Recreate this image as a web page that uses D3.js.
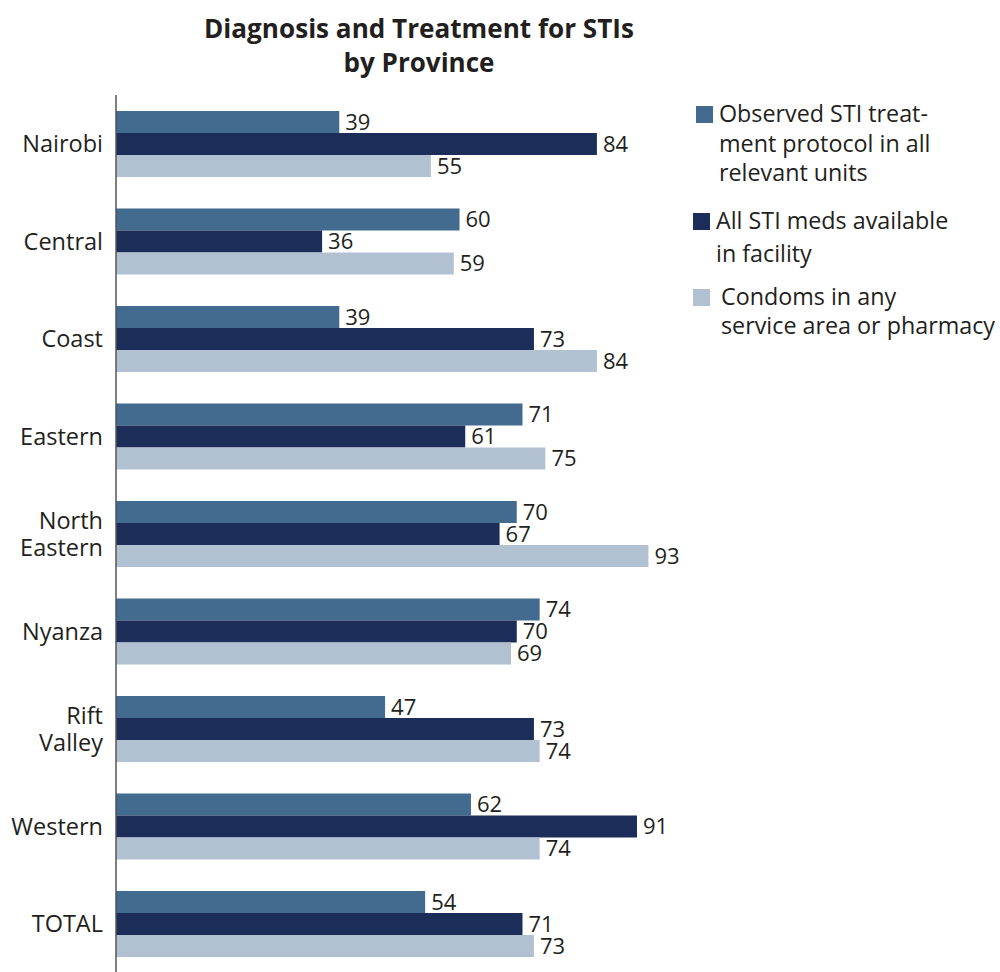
<!DOCTYPE html>
<html>
<head>
<meta charset="utf-8">
<script src="https://cdn.jsdelivr.net/npm/d3@7"></script>
<style>
  html, body { margin: 0; padding: 0; background: #fff; }
  svg { display: block; font-family: "Open Sans", sans-serif; }
</style>
</head>
<body>
<svg id="chart" width="1000" height="972"></svg>
<script>
// Provinces (category axis), top to bottom
const provinces = ["Nairobi", "Central", "Coast", "Eastern", "North Eastern", "Nyanza", "Rift Valley", "Western", "TOTAL"];
// Label lines for the category axis
const provinceLines = {
  "North Eastern": ["North", "Eastern"],
  "Rift Valley": ["Rift", "Valley"]
};
// Series (percent of facilities)
const seriesNames = ["observed", "meds", "condoms"];
const observedProtocol = [39, 60, 39, 71, 70, 74, 47, 62, 54];
const medsAvailable    = [84, 36, 73, 61, 67, 70, 73, 91, 71];
const condomsAvailable = [55, 59, 84, 75, 93, 69, 74, 74, 73];
const legendLabels = [
  ["Observed STI treat-", "ment protocol in all", "relevant units"],
  ["All STI meds available", "in facility"],
  ["Condoms in any", "service area or pharmacy"]
];
const colors = ["#436a8f", "#1c2d5a", "#b1c1d2"];
const textColor = "#231f20";

const svg = d3.select("#chart");

const x = d3.scaleLinear().domain([0, 100]).range([116, 688.5]);
const y = d3.scaleBand().domain(provinces).range([111, 957]).paddingInner(0.323).paddingOuter(0);
const ySeries = d3.scaleBand().domain(seriesNames).range([0, y.bandwidth()]).padding(0);
const color = d3.scaleOrdinal().domain(seriesNames).range(colors);

const seriesValues = [observedProtocol, medsAvailable, condomsAvailable];
const rows = provinces.flatMap((p, i) =>
  seriesNames.map((s, j) => ({ province: p, series: s, value: seriesValues[j][i] })));

// Title
svg.append("text")
  .attr("x", 419).attr("y", 0)
  .attr("text-anchor", "middle")
  .attr("font-weight", "bold")
  .attr("font-size", 27)
  .attr("fill", textColor)
  .selectAll("tspan")
  .data(["Diagnosis and Treatment for STIs", "by Province"])
  .join("tspan")
  .attr("x", 419)
  .attr("y", (d, i) => 38 + i * 34)
  .attr("textLength", (d, i) => i === 0 ? 430 : 151)
  .attr("lengthAdjust", "spacingAndGlyphs")
  .text(d => d);

// Bars
svg.append("g")
  .selectAll("rect")
  .data(rows)
  .join("rect")
  .attr("x", x(0))
  .attr("y", d => y(d.province) + ySeries(d.series))
  .attr("width", d => x(d.value) - x(0))
  .attr("height", ySeries.bandwidth())
  .attr("fill", d => color(d.series));

// Value labels
svg.append("g")
  .selectAll("text")
  .data(rows)
  .join("text")
  .attr("x", d => x(d.value) + 6)
  .attr("y", d => y(d.province) + ySeries(d.series) + ySeries.bandwidth() / 2)
  .attr("dy", "0.36em")
  .attr("font-size", 22)
  .attr("fill", textColor)
  .text(d => d.value);

// Category axis
const axis = svg.append("g")
  .attr("transform", `translate(${x(0)},0)`)
  .call(d3.axisLeft(y).tickSize(0).tickPadding(13));
axis.select(".domain").remove();
axis.selectAll(".tick text")
  .attr("font-family", "'Open Sans', sans-serif")
  .attr("font-size", 23.5)
  .attr("fill", textColor)
  .each(function(d) {
    const lines = provinceLines[d] || [d];
    const t = d3.select(this).text(null).attr("dy", null);
    lines.forEach((line, i) => {
      t.append("tspan")
        .attr("x", -13)
        .attr("dy", i === 0 ? `${0.36 - (lines.length - 1) * 0.58}em` : "1.16em")
        .text(line);
    });
  });

// Vertical axis line
svg.append("line")
  .attr("x1", x(0)).attr("x2", x(0))
  .attr("y1", 95).attr("y2", 972)
  .attr("stroke", "#555").attr("stroke-width", 1.5);

// Legend
const legendPos = [
  { sx: 696, sy: 106, tx: 719, ty: [122, 152, 181] },
  { sx: 693, sy: 213, tx: 716, ty: [229, 262] },
  { sx: 693, sy: 289, tx: 721, ty: [305, 334] }
];
const legend = svg.append("g");
legendLabels.forEach((lines, i) => {
  const p = legendPos[i];
  legend.append("rect")
    .attr("x", p.sx).attr("y", p.sy)
    .attr("width", 17).attr("height", 17)
    .attr("fill", colors[i]);
  const t = legend.append("text")
    .attr("font-size", 23.3)
    .attr("fill", textColor);
  lines.forEach((line, k) => {
    t.append("tspan").attr("x", p.tx).attr("y", p.ty[k]).text(line);
  });
});
</script>
</body>
</html>
